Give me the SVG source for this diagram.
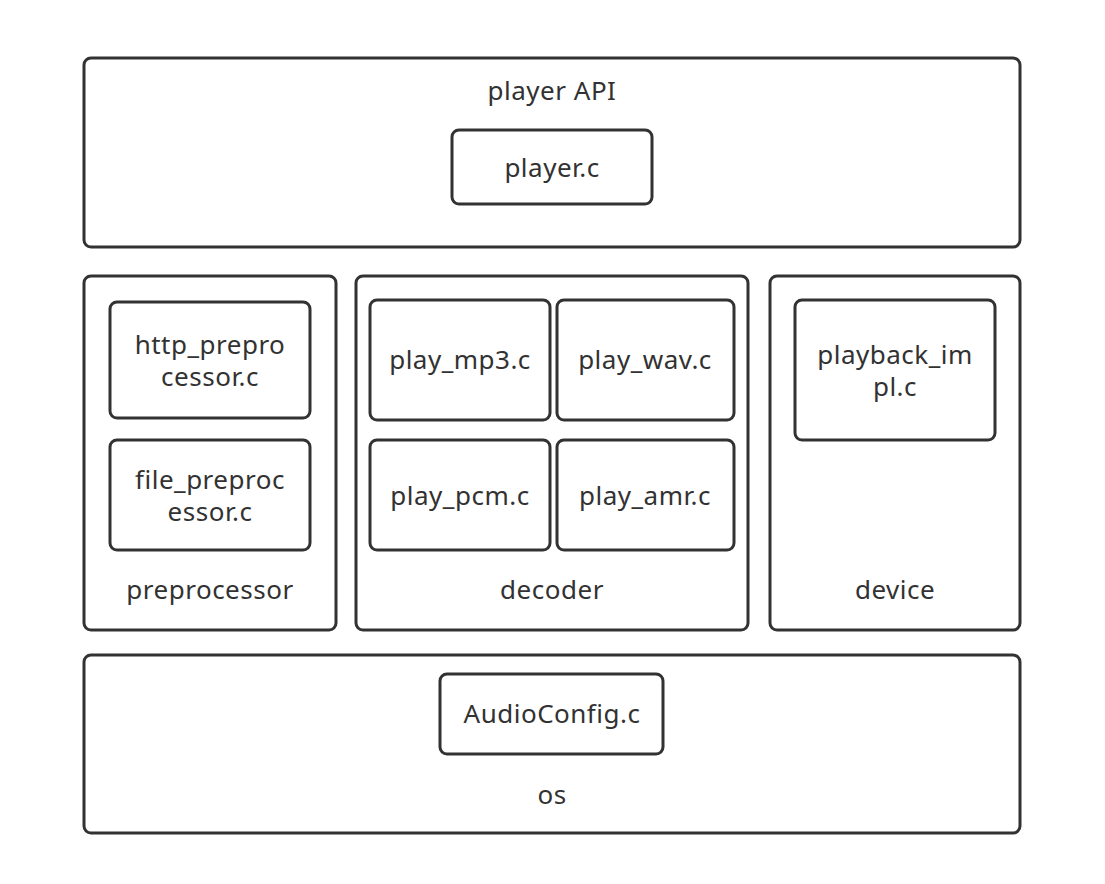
<svg xmlns="http://www.w3.org/2000/svg" width="1105" height="884" viewBox="0 0 1105 884">
<style>
rect{fill:#fff;stroke:#323232;stroke-width:3}
text{font-family:"Noto Sans","Open Sans",sans-serif;font-size:26px;letter-spacing:0.5px;fill:#323232;text-anchor:middle}
</style>
<rect x="0" y="0" width="1105" height="884" style="stroke:none"/>
<g id="playerAPI"><rect x="84" y="58" width="936" height="189" rx="7"/><text x="552" y="100">player API</text></g>
<g id="playerc"><rect x="452" y="130" width="200" height="74" rx="7"/><text x="552" y="177">player.c</text></g>
<g id="preprocessor"><rect x="84" y="276" width="252" height="354" rx="7"/><text x="210" y="599">preprocessor</text></g>
<g id="http"><rect x="110" y="302" width="200" height="116" rx="7"/><text x="210" y="354">http_prepro</text><text x="210" y="386">cessor.c</text></g>
<g id="file"><rect x="110" y="440" width="200" height="110" rx="7"/><text x="210" y="489">file_preproc</text><text x="210" y="521">essor.c</text></g>
<g id="decoder"><rect x="356" y="276" width="392" height="354" rx="7"/><text x="552" y="599">decoder</text></g>
<g id="mp3"><rect x="370" y="300" width="180" height="120" rx="7"/><text x="460" y="369">play_mp3.c</text></g>
<g id="wav"><rect x="557" y="300" width="177" height="120" rx="7"/><text x="645" y="369">play_wav.c</text></g>
<g id="pcm"><rect x="370" y="440" width="180" height="110" rx="7"/><text x="460" y="505">play_pcm.c</text></g>
<g id="amr"><rect x="557" y="440" width="177" height="110" rx="7"/><text x="645" y="505">play_amr.c</text></g>
<g id="device"><rect x="770" y="276" width="250" height="354" rx="7"/><text x="895" y="599">device</text></g>
<g id="playback"><rect x="795" y="300" width="200" height="140" rx="7"/><text x="895" y="364">playback_im</text><text x="895" y="396">pl.c</text></g>
<g id="os"><rect x="84" y="655" width="936" height="178" rx="7"/><text x="552" y="804">os</text></g>
<g id="audioconfig"><rect x="440" y="674" width="223" height="80" rx="7"/><text x="552" y="723">AudioConfig.c</text></g>
<g id="connectors"></g>
</svg>
